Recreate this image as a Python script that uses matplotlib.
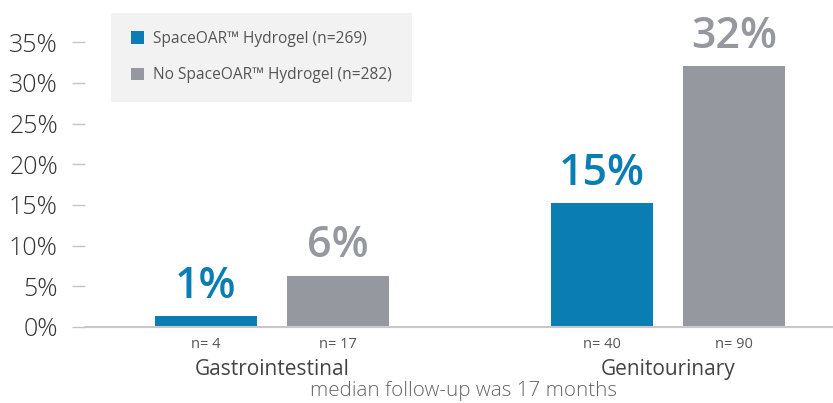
import numpy as np
import matplotlib
matplotlib.use('Agg')
import matplotlib.pyplot as plt
from matplotlib.patches import Rectangle
from matplotlib.transforms import blended_transform_factory

categories = ['Gastrointestinal', 'Genitourinary']
series_names = ['SpaceOAR\u2122 Hydrogel (n=269)', 'No SpaceOAR\u2122 Hydrogel (n=282)']
spaceoar_values = [1.35, 15.2]
no_spaceoar_values = [6.3, 32.1]
value_labels = [['1%', '15%'], ['6%', '32%']]
n_labels = [['n= 4', 'n= 40'], ['n= 17', 'n= 90']]
yticks = [0, 5, 10, 15, 20, 25, 30, 35]
footnote = 'median follow-up was 17 months'

blue = '#0a7db3'
gray = '#95989e'

plt.rcParams['font.family'] = ['Open Sans', 'DejaVu Sans']

fig = plt.figure(figsize=(8.33, 4.03), dpi=100)
ax = fig.add_axes([85 / 833, 76 / 403, 748 / 833, 327 / 403])
ax.patch.set_alpha(0)

x = np.arange(len(categories))
width = 0.258
offset = 0.1667
all_values = [spaceoar_values, no_spaceoar_values]
colors = [blue, gray]
for i, vals in enumerate(all_values):
    pos = x + (i * 2 - 1) * offset
    ax.bar(pos, vals, width, color=colors[i], label=series_names[i])
    for j, v in enumerate(vals):
        ax.annotate(value_labels[i][j], (pos[j], v), xytext=(0, 6),
                    textcoords='offset points', ha='center', va='bottom',
                    fontsize=31, fontweight='semibold', color=colors[i])
        ax.annotate(n_labels[i][j], (pos[j], 0), xytext=(0, -7),
                    textcoords='offset points', ha='center', va='top',
                    fontsize=10.5, color='#555555')

trans = blended_transform_factory(ax.transData, ax.transAxes)
for j, cat in enumerate(categories):
    ax.annotate(cat, (x[j], 0), xycoords=trans, xytext=(0, -23),
                textcoords='offset points', ha='center', va='top',
                fontsize=15, fontweight='medium', color='#444444')

fig.text(464 / 833, 1 - 391 / 403, footnote, ha='center', va='center',
         fontsize=14.8, fontweight='light', color='#666666')

ax.set_xlim(-0.472, 1.417)
ax.set_ylim(0, 40.2)
ax.set_yticks(yticks)
ax.set_yticklabels([f'{t}%' for t in yticks])
ax.set_xticks([])
ax.tick_params(axis='y', length=9.5, width=1, color='#c4c4c4', pad=10,
               labelsize=18, labelcolor='#333333')
for lbl in ax.get_yticklabels():
    lbl.set_fontweight('light')
for s in ['top', 'right', 'left']:
    ax.spines[s].set_visible(False)
ax.spines['bottom'].set_color('#c8c8c8')
ax.spines['bottom'].set_linewidth(1.5)

# legend background box
fig.patches.append(Rectangle((111 / 833, 1 - 102 / 403), 301 / 833, 89 / 403,
                             transform=fig.transFigure, facecolor='#f2f2f2',
                             edgecolor='none', zorder=-1))
leg = ax.legend(loc='upper left', bbox_to_anchor=(131 / 833, 1 - 31 / 403),
                bbox_transform=fig.transFigure, frameon=False, fontsize=11.2,
                handlelength=0.85, handleheight=0.85, handletextpad=0.55,
                labelspacing=1.3, borderpad=0, borderaxespad=0)
for t in leg.get_texts():
    t.set_color('#555555')

fig.savefig('out.png', dpi=100)
